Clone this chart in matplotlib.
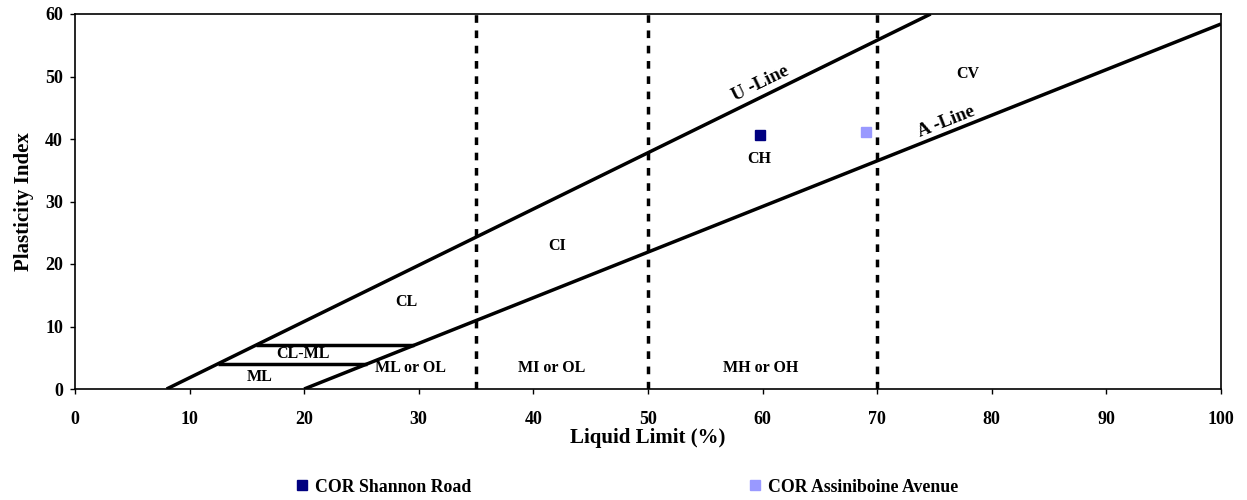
"""Carta de plasticidad (Casagrande) con las muestras COR."""

import matplotlib
matplotlib.use("Agg")
import matplotlib.pyplot as plt
import numpy as np

# Lineas de la carta: U-Line PI = 0.9 (LL - 8), A-Line PI = 0.73 (LL - 20)
u_ll = [8.0, 74.67]
u_pi = [0.0, 60.0]
a_ll = [20.0, 100.0]
a_pi = [0.0, 58.4]

# Banda CL-ML (PI = 4 y PI = 7 entre ambas lineas)
band_pi = [4.0, 7.0]
band_ll_start = [12.44, 15.78]
band_ll_end = [25.48, 29.59]

# Limites de compresibilidad
ll_limits = [35, 50, 70]

# Etiquetas de zonas
zone_names = ["CL", "CI", "CH", "CV", "ML", "CL-ML", "ML or OL", "MI or OL", "MH or OH"]
zone_ll = [28.9, 42.1, 59.7, 77.9, 16.1, 19.9, 29.3, 41.6, 59.8]
zone_pi = [13.9, 22.9, 36.8, 50.4, 1.9, 5.6, 3.4, 3.4, 3.4]

# Muestras
sample_names = ["COR Shannon Road", "COR Assiniboine Avenue"]
sample_ll = [59.8, 69.0]
sample_pi = [40.7, 41.2]
sample_colors = ["#000080", "#9999ff"]

plt.rcParams["font.family"] = ["Liberation Serif", "DejaVu Serif"]
plt.rcParams["font.weight"] = "bold"

fig = plt.figure(figsize=(12.47, 5.0), dpi=100)
ax = fig.add_axes([0.0601, 0.222, 0.919, 0.750])

LW = 2.5
ax.plot(u_ll, u_pi, color="black", lw=LW, solid_capstyle="butt")
ax.plot(a_ll, a_pi, color="black", lw=LW, solid_capstyle="butt")
for pi, x0, x1 in zip(band_pi, band_ll_start, band_ll_end):
    ax.plot([x0, x1], [pi, pi], color="black", lw=LW, solid_capstyle="butt")
for ll in ll_limits:
    ax.plot([ll, ll], [0, 60], color="black", lw=LW, dashes=(2.2, 2.2))

for name, x, y in zip(zone_names, zone_ll, zone_pi):
    ax.text(x, y, name, ha="center", va="center", fontsize=11.5, fontweight="bold")

ax.text(59.8, 48.9, "U -Line", rotation=26, ha="center", va="center",
        fontsize=13.5, fontweight="bold")
ax.text(76.0, 42.7, "A -Line", rotation=21.5, ha="center", va="center",
        fontsize=13.5, fontweight="bold")

handles = []
for name, x, y, c in zip(sample_names, sample_ll, sample_pi, sample_colors):
    h, = ax.plot(x, y, "s", color=c, markersize=7.5, label=name, linestyle="none")
    handles.append(h)

ax.set_xlim(0, 100)
ax.set_ylim(0, 60)
ax.set_xticks(np.arange(0, 101, 10))
ax.set_yticks(np.arange(0, 61, 10))
ax.tick_params(direction="out", length=3.6, width=1, labelsize=13)
ax.tick_params(axis="x", pad=12)
ax.tick_params(axis="y", pad=5)
for lbl in ax.get_xticklabels() + ax.get_yticklabels():
    lbl.set_fontweight("bold")
for sp in ax.spines.values():
    sp.set_linewidth(1.2)

ax.set_xlabel("Liquid Limit (%)", fontsize=15, fontweight="bold", labelpad=0)
ax.set_ylabel("Plasticity Index", fontsize=15, fontweight="bold", labelpad=8)

# Una leyenda por muestra, separadas como en el informe
for h, xpos in zip(handles, [295 / 1247, 748 / 1247]):
    fig.legend(handles=[h], loc="center left", bbox_to_anchor=(xpos, 0.026),
               frameon=False, borderpad=0, borderaxespad=0, handlelength=0.8,
               handletextpad=0.35, prop={"weight": "bold", "size": 12.8})

fig.savefig("out.png", dpi=100, facecolor="white")
